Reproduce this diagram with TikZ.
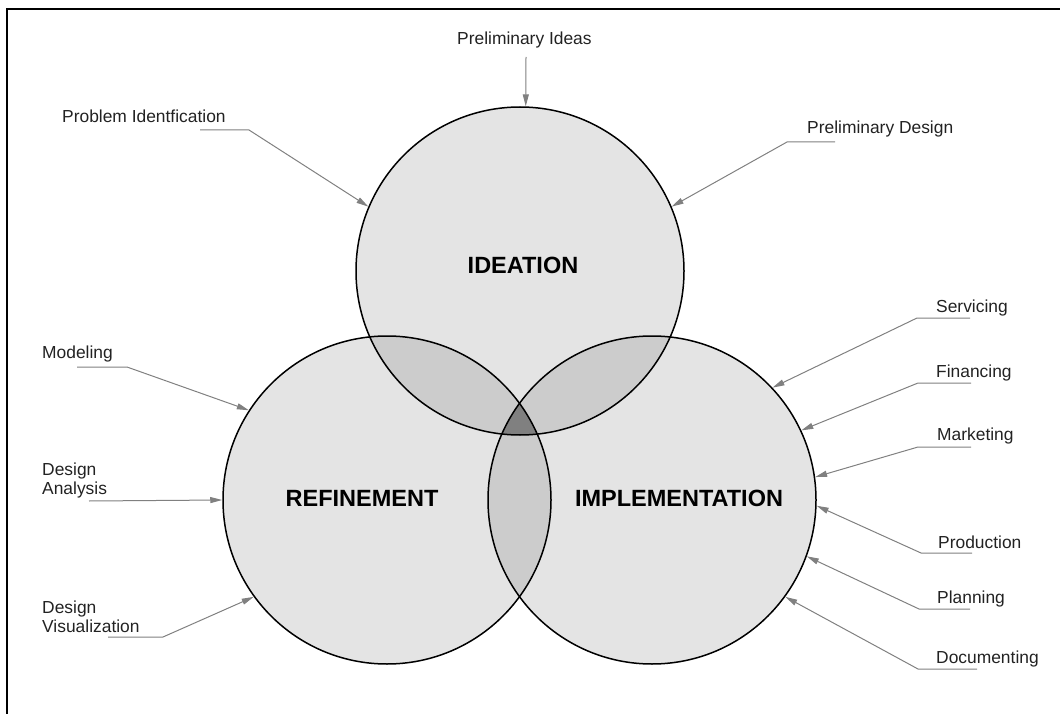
\documentclass[tikz,border=0pt]{standalone}
\usepackage{fontspec}
\setmainfont{Liberation Sans}
\usepackage{tikz}
\usetikzlibrary{arrows.meta}
\definecolor{disc}{RGB}{228,228,228}
\definecolor{pair}{RGB}{204,204,204}
\definecolor{core}{RGB}{128,128,128}
\definecolor{ln}{RGB}{128,128,128}
\definecolor{tagtext}{RGB}{34,34,34}
\newcommand{\tagfont}{\fontsize{17.4}{19}\selectfont}
\newcommand{\headfont}{\fontsize{23.5}{26}\selectfont\bfseries}

\begin{document}
\begin{tikzpicture}[x=1pt, y=-1pt,
                    every node/.style = {inner sep=0pt, text=tagtext, font=\tagfont},
                    ring/.style = {circle, draw=black, line width=1.5pt, minimum size=328pt},
                    lead/.style = {draw=ln, line width=1pt, -{Triangle[length=12pt, width=6pt]}},
                    tag/.style = {anchor=base west},
                    head/.style = {text=black, font=\headfont, anchor=base}]
    \useasboundingbox (0,0) rectangle (1060,714);
    \draw [line width=1.3pt] (1060,9) -- (7,9) -- (7,714);

    \coordinate (ci) at (520,271);
    \coordinate (cr) at (387,500);
    \coordinate (cm) at (652,500);

    % shading of the sets and their overlaps
    \fill [disc] (ci) circle (164pt) (cr) circle (164pt) (cm) circle (164pt);
    \begin{scope}
        \clip (ci) circle (164pt);
        \fill [pair] (cr) circle (164pt) (cm) circle (164pt);
    \end{scope}
    \begin{scope}
        \clip (cr) circle (164pt);
        \fill [pair] (cm) circle (164pt);
        \clip (cm) circle (164pt);
        \fill [core] (ci) circle (164pt);
    \end{scope}

    \node (ide) [ring] at (ci) {};
    \node (ref) [ring] at (cr) {};
    \node (imp) [ring] at (cm) {};

    \node (hide) [head] at (523,273) {IDEATION};
    \node (href) [head] at (362,506) {REFINEMENT};
    \node (himp) [head] at (679,506) {IMPLEMENTATION};

    % labels round the ideation set
    \node (pid) [tag] at (457,45) {Preliminary Ideas};
    \node (pbi) [tag] at (62,123) {Problem Identfication};
    \node (pds) [tag] at (807,134) {Preliminary Design};
    \coordinate (pid1) at (526,57);
    \coordinate (pbi1) at (200,130);
    \coordinate (pbi2) at (249,130);
    \coordinate (pds1) at (835,142);
    \coordinate (pds2) at (787,142);
    \draw [lead] (pid1) -- (ide.88);
    \draw [lead] (pbi1) -- (pbi2) -- (ide.157);
    \draw [lead] (pds1) -- (pds2) -- (ide.23);

    % labels round the refinement set
    \node (mod) [tag] at (42,358) {Modeling};
    \node (dan) [anchor=north west, align=left] at (42,463) {Design\\Analysis};
    \node (dvi) [anchor=north west, align=left] at (42,601) {Design\\Visualization};
    \coordinate (mod1) at (77,367);
    \coordinate (mod2) at (127,367);
    \coordinate (dan1) at (89,501);
    \coordinate (dvi1) at (108,637);
    \coordinate (dvi2) at (163,637);
    \draw [lead] (mod1) -- (mod2) -- (ref.147);
    \draw [lead] (dan1) -- (ref.180);
    \draw [lead] (dvi1) -- (dvi2) -- (ref.216);

    % labels round the implementation set
    \node (srv) [tag] at (936,312) {Servicing};
    \node (fin) [tag] at (936,377) {Financing};
    \node (mkt) [tag] at (937,440) {Marketing};
    \node (prd) [tag] at (938,548) {Production};
    \node (pln) [tag] at (937,603) {Planning};
    \node (doc) [tag] at (936,663) {Documenting};
    \coordinate (srv1) at (970,318);
    \coordinate (srv2) at (917,318);
    \coordinate (fin1) at (971,383);
    \coordinate (fin2) at (918,383);
    \coordinate (mkt1) at (971,447);
    \coordinate (mkt2) at (918,447);
    \coordinate (prd1) at (972,553);
    \coordinate (prd2) at (921,553);
    \coordinate (pln1) at (970,609);
    \coordinate (pln2) at (919,609);
    \coordinate (doc1) at (977,669);
    \coordinate (doc2) at (918,669);
    \draw [lead] (srv1) -- (srv2) -- (imp.43.5);
    \draw [lead] (fin1) -- (fin2) -- (imp.25.6);
    \draw [lead] (mkt1) -- (mkt2) -- (imp.8);
    \draw [lead] (prd1) -- (prd2) -- (imp.-2);
    \draw [lead] (pln1) -- (pln2) -- (imp.-20);
    \draw [lead] (doc1) -- (doc2) -- (imp.-36.5);
\end{tikzpicture}
\end{document}
